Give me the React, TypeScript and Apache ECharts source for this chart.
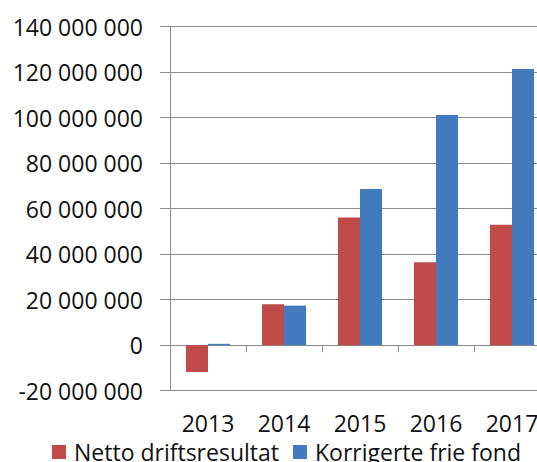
import React, { useEffect, useRef } from "react";
import * as echarts from "echarts";

const categories = ["2013", "2014", "2015", "2016", "2017"];
const nettoDriftsresultat = [-11800000, 18000000, 56100000, 36500000, 52900000];
const korrigerteFrieFond = [600000, 17400000, 68700000, 101200000, 121400000];
const seriesNames = ["Netto driftsresultat", "Korrigerte frie fond"];

const FONT = "'Open Sans', sans-serif";
const GRAY = "#8c8c8c";

function fmt(v: number): string {
  const s = Math.abs(v).toString().replace(/\B(?=(\d{3})+(?!\d))/g, " ");
  return (v < 0 ? "-" : "") + s;
}

export default function App() {
  const ref = useRef<HTMLDivElement>(null);
  useEffect(() => {
    if (!ref.current) return;
    const chart = echarts.init(ref.current, undefined, { renderer: "svg" });
    chart.setOption({
      animation: false,
      backgroundColor: "#ffffff",
      textStyle: { fontFamily: FONT },
      grid: { left: 170, right: 10, top: 26.7, bottom: 71.3, containLabel: false },
      legend: {
        left: 47,
        top: 435,
        itemWidth: 14,
        itemHeight: 14,
        itemGap: 14,
        icon: "rect",
        textStyle: { fontFamily: FONT, fontSize: 23, lineHeight: 24, color: "#111", padding: [0, 0, 0, 3] },
        data: seriesNames,
      },
      xAxis: [
        {
          type: "category",
          data: categories,
          position: "bottom",
          axisLine: { show: true, onZero: true, lineStyle: { color: GRAY, width: 1 } },
          axisTick: { show: true, length: 7, lineStyle: { color: GRAY } },
          axisLabel: { show: false },
          splitLine: { show: false },
        },
        {
          type: "category",
          data: categories,
          position: "bottom",
          axisLine: { show: false, onZero: false },
          axisTick: { show: false },
          axisLabel: { show: true, margin: 20, fontFamily: FONT, fontSize: 23, lineHeight: 24, color: "#111" },
          splitLine: { show: false },
        },
      ],
      yAxis: {
        type: "value",
        min: -20000000,
        max: 140000000,
        interval: 20000000,
        axisLine: { show: true, lineStyle: { color: GRAY, width: 1 } },
        axisTick: { show: true, length: 10, lineStyle: { color: GRAY } },
        axisLabel: { margin: 27, fontFamily: FONT, fontSize: 23, color: "#111", formatter: (v: number) => fmt(v) },
        splitLine: { show: true, lineStyle: { color: GRAY, width: 1 } },
      },
      series: [
        {
          name: seriesNames[0],
          type: "bar",
          xAxisIndex: 0,
          data: nettoDriftsresultat,
          barGap: "0%",
          barCategoryGap: "42%",
          itemStyle: { color: "#BF4B48" },
        },
        {
          name: seriesNames[1],
          type: "bar",
          xAxisIndex: 0,
          data: korrigerteFrieFond,
          barGap: "0%",
          barCategoryGap: "42%",
          itemStyle: { color: "#437ABE" },
        },
      ],
    });
    return () => chart.dispose();
  }, []);
  return (
    <div style={{ position: "fixed", left: 0, top: 0, width: 537, height: 462, overflow: "hidden", background: "#fff" }}>
      <div ref={ref} style={{ width: 560, height: 462 }} />
    </div>
  );
}
